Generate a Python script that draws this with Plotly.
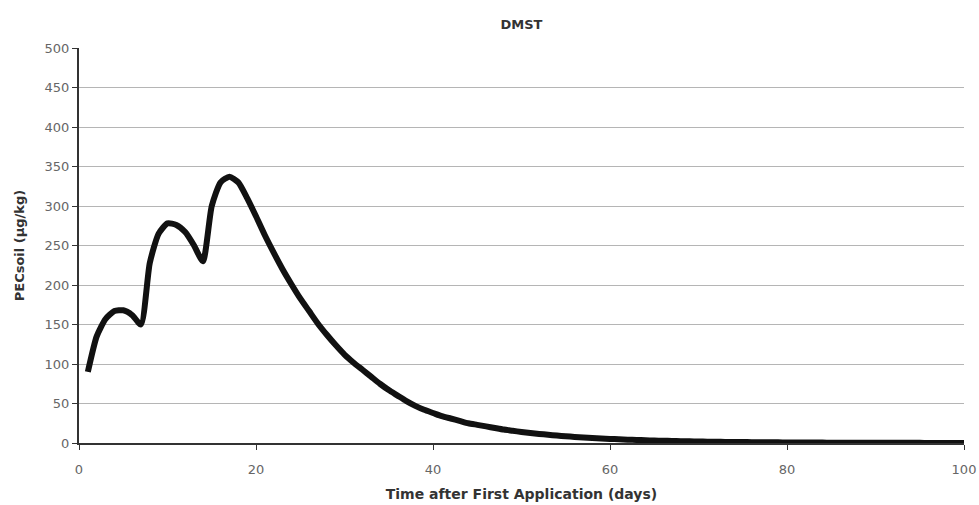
import plotly.graph_objects as go

days = list(range(1, 101))
pec_soil = [
    90, 135, 157, 167, 168, 162, 150, 228, 265, 278,
    276, 267, 250, 230, 300, 330, 337, 330, 310, 287,
    263, 241, 220, 201, 183, 167, 151, 137, 124, 112,
    102, 93, 84, 75, 67, 60, 53, 47, 42, 38,
    34, 31, 28, 25, 23, 21, 19, 17, 15.5, 14,
    12.7, 11.5, 10.4, 9.4, 8.5, 7.7, 7.0, 6.3, 5.7, 5.2,
    4.7, 4.2, 3.8, 3.5, 3.1, 2.8, 2.6, 2.3, 2.1, 1.9,
    1.7, 1.6, 1.4, 1.3, 1.2, 1.1, 1.0, 0.9, 0.8, 0.7,
    0.65, 0.6, 0.55, 0.5, 0.45, 0.4, 0.37, 0.34, 0.31, 0.28,
    0.25, 0.23, 0.21, 0.19, 0.17, 0.15, 0.14, 0.13, 0.12, 0.11,
]
x_ticks = [0, 20, 40, 60, 80, 100]
y_ticks = [0, 50, 100, 150, 200, 250, 300, 350, 400, 450, 500]

fig = go.Figure()
fig.add_trace(go.Scatter(
    x=days, y=pec_soil, mode="lines",
    line=dict(color="#111111", width=6, shape="spline", smoothing=0.6),
    showlegend=False, hoverinfo="x+y",
))

W, H = 979, 505
fnt = "DejaVu Sans, Liberation Sans, sans-serif"
fig.update_layout(
    width=W, height=H,
    margin=dict(l=79, r=15, t=48, b=62),
    paper_bgcolor="white", plot_bgcolor="white",
    title=dict(text="<b>DMST</b>", x=(79 + 964) / 2 / W, xanchor="center",
               y=1 - 24 / H, yanchor="middle",
               font=dict(family=fnt, size=13, color="#333333")),
    xaxis=dict(
        range=[0, 100], tickvals=x_ticks, showgrid=False, zeroline=False,
        automargin=False,
        showline=True, linecolor="#333333", linewidth=2,
        ticks="outside", ticklen=5, tickcolor="#333333", tickwidth=1,
        ticklabelstandoff=8,
        tickfont=dict(family=fnt, size=13, color="#666666"),
        title=dict(text="<b>Time after First Application (days)</b>", standoff=14,
                   font=dict(family=fnt, size=14, color="#333333")),
    ),
    yaxis=dict(
        range=[0, 500], tickvals=y_ticks, showgrid=True, gridcolor="#b5b5b5",
        gridwidth=1, zeroline=False, automargin=False,
        showline=True, linecolor="#333333", linewidth=2,
        ticks="outside", ticklen=5, tickcolor="#333333", tickwidth=1,
        tickfont=dict(family=fnt, size=13, color="#666666"),
        title=dict(text="<b>PECsoil (µg/kg)</b>", standoff=17,
                   font=dict(family=fnt, size=13, color="#333333")),
    ),
)

fig.write_html(
    "out.html",
    config={"displayModeBar": False},
    post_script="document.body.style.margin='0';document.body.style.overflow='hidden';",
)
